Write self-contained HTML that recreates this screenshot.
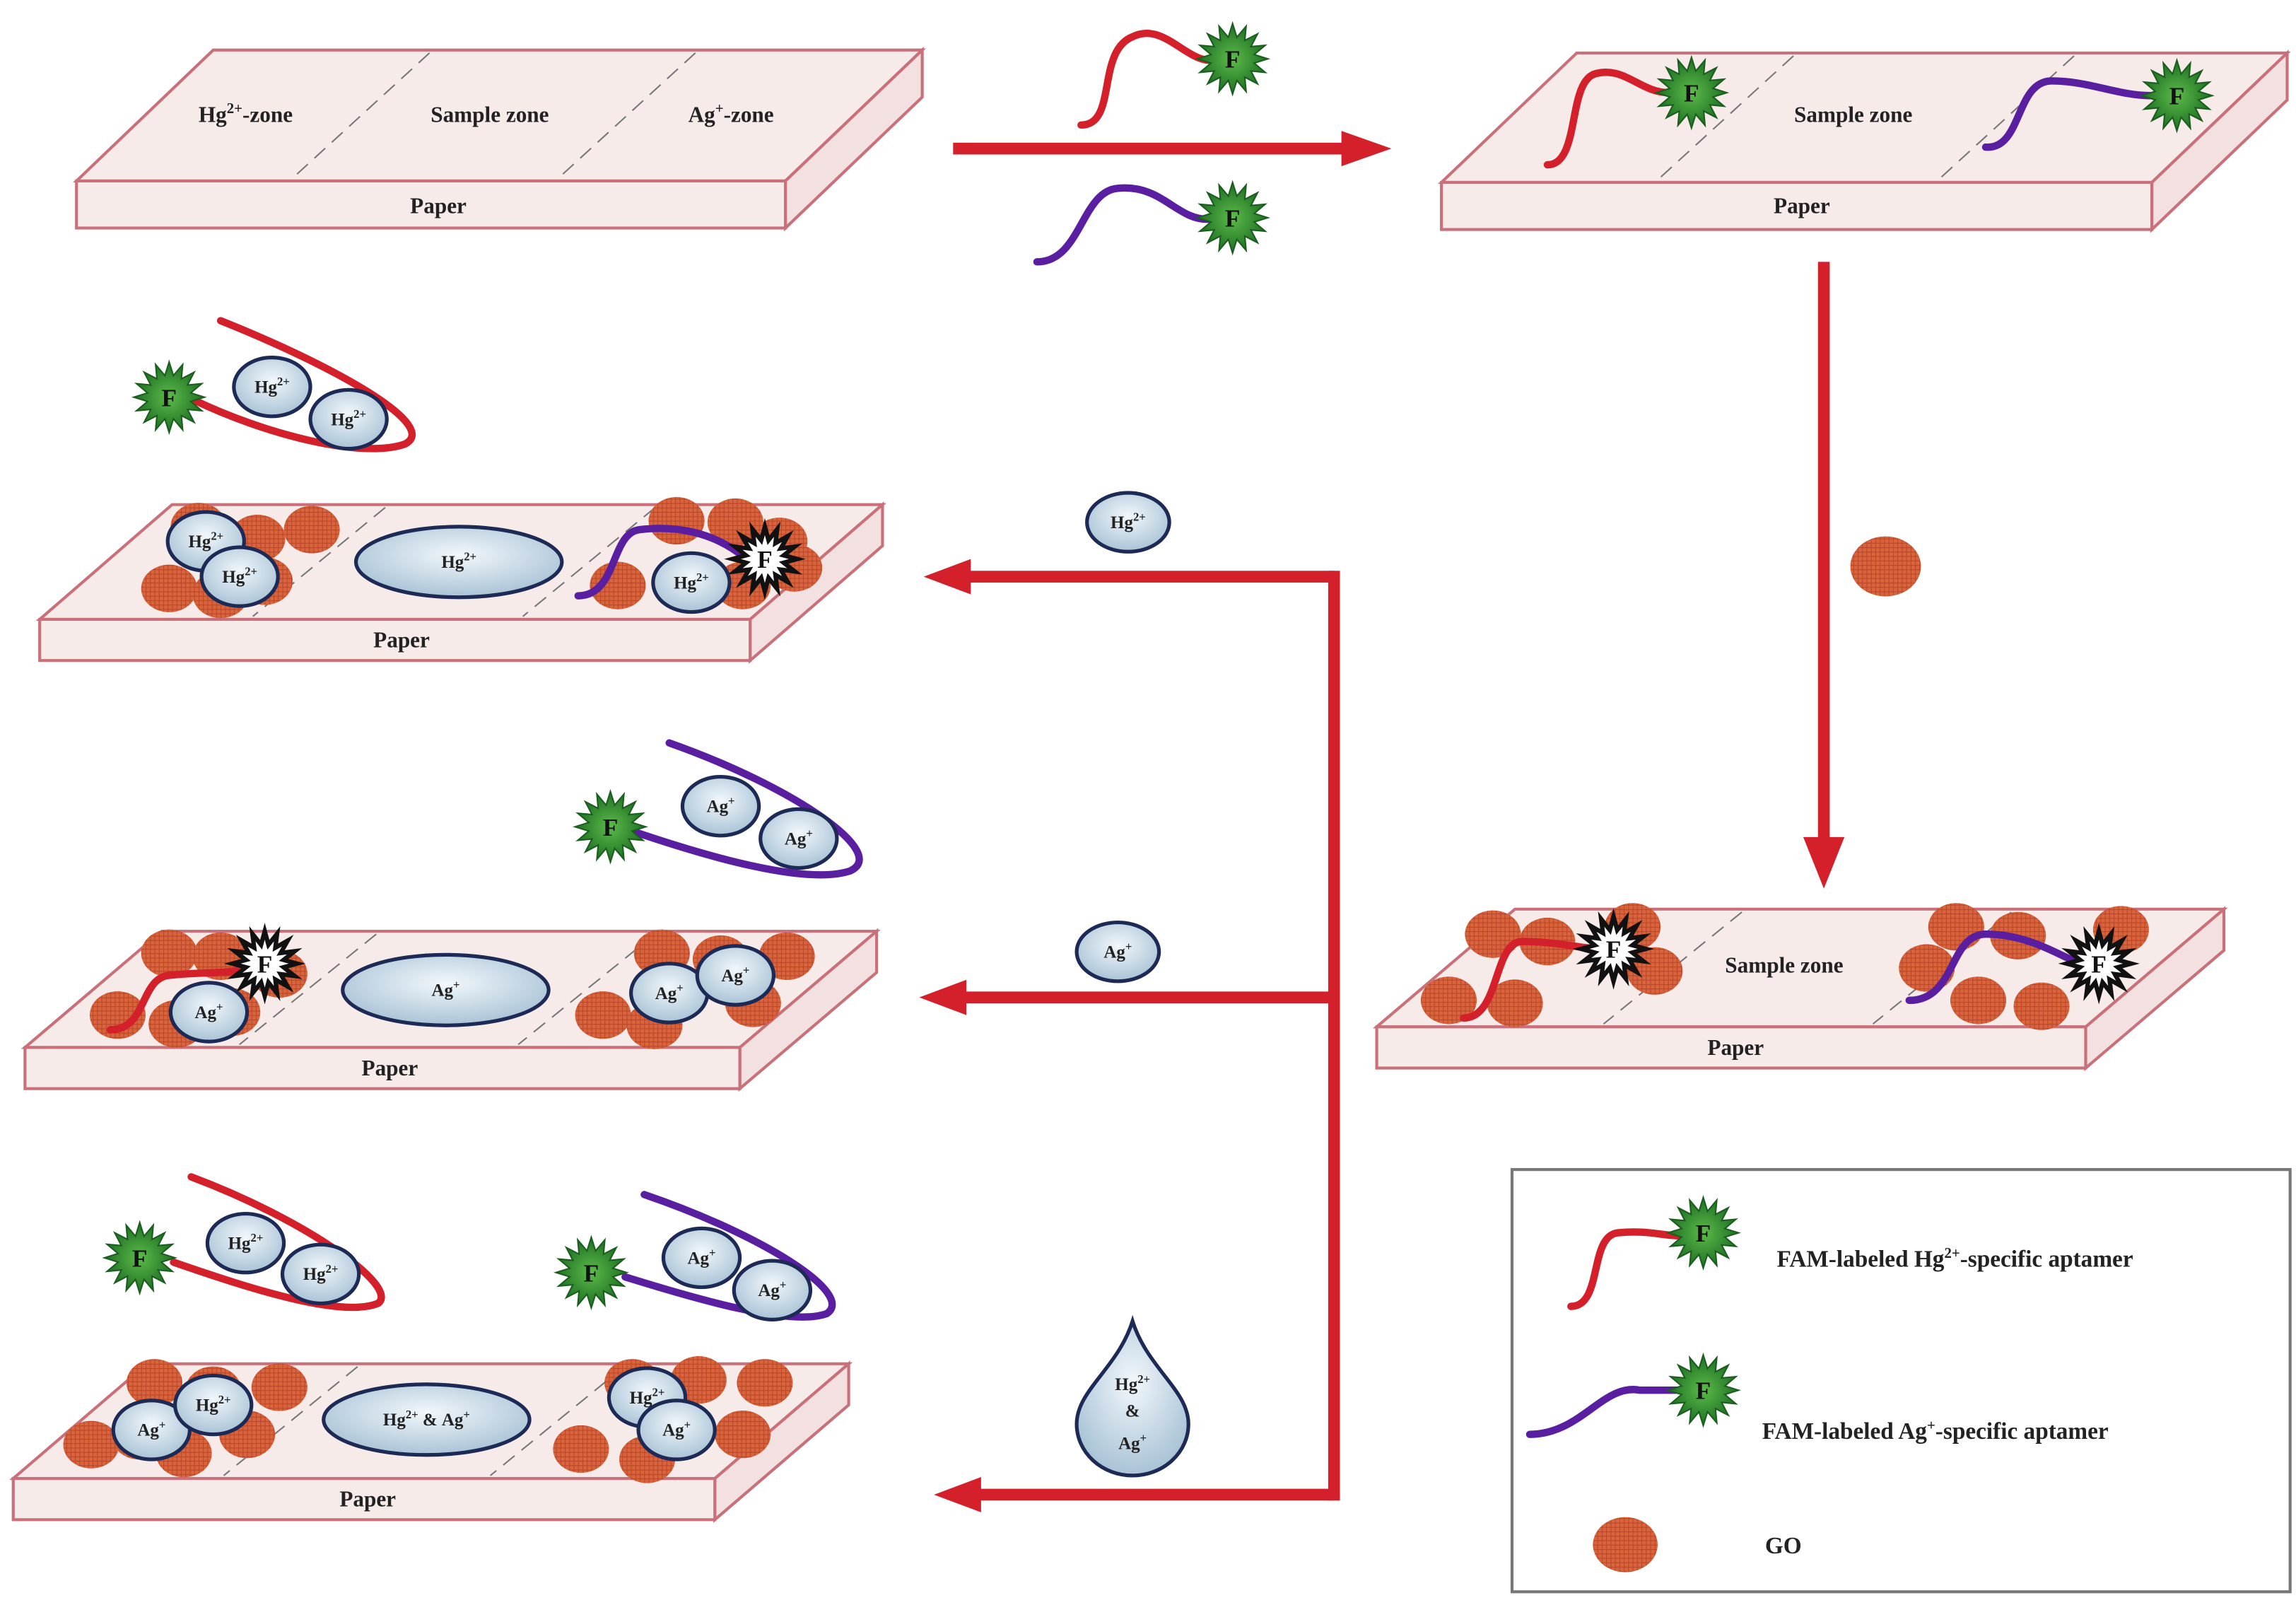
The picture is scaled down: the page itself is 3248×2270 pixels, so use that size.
<!DOCTYPE html>
<html><head><meta charset="utf-8"><style>
html,body{margin:0;padding:0;background:#fff}
svg{display:block}
text{font-family:"Liberation Serif",serif;font-weight:bold;fill:#222}
</style></head><body>
<svg id="s" width="3248" height="2270" viewBox="0 0 1561 1091" preserveAspectRatio="none" xmlns="http://www.w3.org/2000/svg">
<defs>
<pattern id="grid" width="3" height="3" patternUnits="userSpaceOnUse"><rect width="3" height="3" fill="#d9643c"/><path d="M0 0H3M0 0V3" stroke="#b8462a" stroke-width="1"/></pattern>
<radialGradient id="ion" cx="50%" cy="40%" r="60%"><stop offset="0" stop-color="#f2f7fb"/><stop offset="1" stop-color="#a9c3d6"/></radialGradient>
<radialGradient id="gs" cx="50%" cy="50%" r="50%"><stop offset="0" stop-color="#5dbb4a"/><stop offset="1" stop-color="#1d6f22"/></radialGradient>
<symbol id="gstar" viewBox="-26 -26 52 52" overflow="visible"><polygon id="gp" fill="url(#gs)" stroke="#1b5e1f" stroke-width="1"/><text x="0" y="6" text-anchor="middle" font-size="17" style="fill:#111">F</text></symbol>
<symbol id="wstar" viewBox="-26 -26 52 52" overflow="visible"><polygon id="wp" fill="#fff" stroke="#111" stroke-width="3"/><text x="0" y="6" text-anchor="middle" font-size="17" style="fill:#111">F</text></symbol>
</defs>
<g id="g"></g>
</svg>
<script>
function pts(n,r1,r2){let a=[];for(let i=0;i<2*n;i++){let r=i%2?r2:r1,t=Math.PI*i/n;a.push((r*Math.cos(t)).toFixed(1)+','+(r*Math.sin(t)).toFixed(1));}return a.join(' ');}
document.getElementById('gp').setAttribute('points',pts(16,24,15));
document.getElementById('wp').setAttribute('points',pts(16,22,13));
let h='';
const R='#d4202a';
function slab(x1,y1,x2,y2,w,d,dl){ // top-left back x1,y1 ; front-left x2,y2; width w; depth d
 let dx=x1-x2;
 h+=`<polygon points="${x1},${y1} ${x1+w},${y1} ${x2+w},${y2} ${x2},${y2}" fill="#f7ebea" stroke="#c9707a" stroke-width="2"/>`;
 h+=`<polygon points="${x2+w},${y2} ${x1+w},${y1} ${x1+w},${y1+d} ${x2+w},${y2+d}" fill="#f3e1e1" stroke="#c9707a" stroke-width="2"/>`;
 h+=`<rect x="${x2}" y="${y2}" width="${w}" height="${d}" fill="#f7ebea" stroke="#c9707a" stroke-width="2"/>`;
 if(dl)dl.forEach(f=>{let ax=x1+w*f,bx=x2+w*f;h+=`<line x1="${ax}" y1="${y1+2}" x2="${bx}" y2="${y2-2}" stroke="#777" stroke-width="1" stroke-dasharray="10,6"/>`;});
}
function t(x,y,s,fs){h+=`<text x="${x}" y="${y}" text-anchor="middle" font-size="${fs||15}">${s}</text>`;}
function go(x,y,r){h+=`<ellipse cx="${x}" cy="${y}" rx="${r||20}" ry="${(r||20)*0.85}" fill="url(#grid)"/>`;}
function ion(x,y,s,rx,ry){rx=rx||26;ry=ry||20;h+=`<ellipse cx="${x}" cy="${y}" rx="${rx}" ry="${ry}" fill="url(#ion)" stroke="#1c2a55" stroke-width="2.5"/><text x="${x}" y="${y+4}" text-anchor="middle" font-size="12">${s}</text>`;}
function p(d,c){h+=`<path d="${d}" fill="none" stroke="${c}" stroke-width="5" stroke-linecap="round"/>`;}
function gs(x,y){h+=`<use href="#gstar" x="${x-26}" y="${y-26}" width="52" height="52"/>`;}
function ws(x,y){h+=`<use href="#wstar" x="${x-26}" y="${y-26}" width="52" height="52"/>`;}
const HG='Hg<tspan font-size="8" dy="-5">2+</tspan>', AG='Ag<tspan font-size="8" dy="-5">+</tspan>';
const P='#5a1fa0';
// slab1
slab(145,34,52,123,482,32,[0.305,0.68]);
t(167,83,'Hg<tspan font-size="10" dy="-6">2+</tspan><tspan dy="6">-zone</tspan>');t(333,83,'Sample zone');t(497,83,'Ag<tspan font-size="10" dy="-6">+</tspan><tspan dy="6">-zone</tspan>');t(298,145,'Paper');
// slab2
slab(1072,36,980,124,483,32,[0.305,0.7]);
t(1260,83,'Sample zone');t(1225,145,'Paper');
p('M1052,112 C1075,112 1065,55 1085,50 C1105,45 1115,63 1135,63',R);gs(1150,63);
p('M1350,100 C1375,102 1370,55 1395,55 C1420,55 1440,65 1462,65',P);gs(1480,65);
// top arrow strands
p('M735,85 C760,85 745,35 770,25 C790,15 805,40 822,41',R);gs(838,40);
p('M705,178 C735,178 735,130 760,128 C790,125 800,150 822,149',P);gs(838,148);
// arrows
h+=`<rect x="648" y="97" width="268" height="8" fill="${R}"/><polygon points="912,89 946,101 912,113" fill="${R}"/>`;
h+=`<rect x="1236" y="178" width="8" height="395" fill="${R}"/><polygon points="1226,569 1240,604 1254,569" fill="${R}"/>`;
h+=`<rect x="903" y="388" width="8" height="632" fill="${R}"/>`;
[[392,628],[678,625],[1016,635]].forEach(([y,x])=>{h+=`<rect x="${x+28}" y="${y-4}" width="${907-x-28}" height="8" fill="${R}"/><polygon points="${x+32},${y-12} ${x},${y} ${x+32},${y+12}" fill="${R}"/>`;});
ion(767,355,HG,28,20);ion(760,647,AG,28,20);
h+=`<path d="M770,898 C780,930 808,945 808,968 A38,35 0 0 1 732,968 C732,945 760,930 770,898Z" fill="url(#ion)" stroke="#1c2a55" stroke-width="2.5"/>`;
t(770,945,HG,12);t(770,963,'&amp;',12);t(770,985,AG,12);
go(1282,385,24);
// loop Hg
p('M150,218 C230,250 300,290 275,302 C245,312 180,295 132,272',R);gs(115,270);ion(185,263,HG);ion(237,285,HG);
// slab3
slab(117,343,27,421,483,28,[0.3,0.68]);
[[135,358],[175,366],[212,360],[115,400],[150,404],[180,395],[460,354],[500,355],[530,368],[420,398],[505,398],[540,386]].forEach(a=>go(a[0],a[1],19));
ion(140,368,HG);ion(163,392,HG);
ion(312,382,HG,70,24);
p('M393,405 C420,405 415,362 435,360 C460,357 485,362 505,378',P);ws(520,380);ion(470,396,HG);
t(273,440,'Paper');
// loop Ag
p('M455,505 C540,535 605,580 578,592 C548,602 480,582 430,565',P);gs(415,562);ion(490,548,AG);ion(543,570,AG);
// slab4
slab(110,633,17,712,486,28,[0.3,0.69]);
[[115,648],[150,650],[190,662],[80,690],[120,696],[158,688],[450,648],[490,652],[535,650],[410,690],[445,697],[512,682]].forEach(a=>go(a[0],a[1],19));
p('M75,700 C100,700 95,665 115,663 C140,660 158,663 170,657',R);ws(180,655);ion(142,688,AG);
ion(303,673,AG,70,24);ion(455,675,AG);ion(500,663,AG);
t(265,731,'Paper');
// bottom loops
p('M130,800 C210,830 272,875 257,886 C232,896 170,876 118,858',R);gs(95,855);ion(167,845,HG);ion(218,866,HG);
p('M438,812 C520,840 582,880 562,893 C537,902 470,882 425,868',P);gs(402,865);ion(477,855,AG);ion(525,877,AG);
// slab5
slab(100,927,9,1005,477,28,[0.3,0.68]);
[[105,940],[145,945],[190,943],[62,982],[95,976],[125,988],[168,975],[430,940],[475,938],[520,940],[395,985],[440,992],[505,975]].forEach(a=>go(a[0],a[1],19));
ion(103,972,AG);ion(145,955,HG);
ion(290,965,HG+'<tspan dy="5"> &amp; </tspan>'+AG,70,24);
ion(440,950,HG);ion(460,972,AG);
t(250,1024,'Paper');
// slab6
slab(1030,618,936,698,482,28,[0.32,0.7]);
[[1015,635],[1052,640],[1110,630],[1125,660],[985,680],[1030,682],[1330,630],[1372,636],[1442,632],[1345,680],[1388,684],[1310,658]].forEach(a=>go(a[0],a[1],19));
p('M995,692 C1020,692 1015,640 1035,640 C1060,640 1075,645 1088,645',R);ws(1097,645);
p('M1298,680 C1330,680 1325,635 1350,635 C1380,635 1400,650 1415,655',P);ws(1427,655);
t(1213,661,'Sample zone');t(1180,717,'Paper');
// legend
h+=`<rect x="1028" y="795" width="529" height="287" fill="#fff" stroke="#777" stroke-width="2"/>`;
p('M1068,888 C1090,888 1080,840 1100,838 C1120,836 1130,840 1142,840',R);gs(1158,838);
p('M1040,975 C1075,975 1090,940 1115,945 C1130,945 1135,945 1142,945',P);gs(1158,945);
go(1105,1050,22);
h+=`<text x="1208" y="861" font-size="16">FAM-labeled Hg<tspan font-size="10" dy="-6">2+</tspan><tspan dy="6">-specific aptamer</tspan></text>`;
h+=`<text x="1198" y="978" font-size="16">FAM-labeled Ag<tspan font-size="10" dy="-6">+</tspan><tspan dy="6">-specific aptamer</tspan></text>`;
h+=`<text x="1200" y="1056" font-size="16">GO</text>`;
document.getElementById('g').innerHTML=h;
</script>
</body></html>
